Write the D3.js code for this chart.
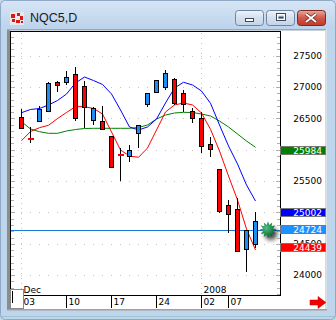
<!DOCTYPE html>
<html><head><meta charset="utf-8">
<script src="https://cdn.jsdelivr.net/npm/d3@7"></script>
<style>html,body{margin:0;padding:0;background:#bfd5ec;overflow:hidden}svg{display:block}</style>
</head><body><svg id="c" width="336" height="320"></svg>
<script>
// ---------- DATA ----------
const title = "NQC5,D";
const dates = ["2007-12-03","2007-12-04","2007-12-05","2007-12-06","2007-12-07",
  "2007-12-10","2007-12-11","2007-12-12","2007-12-13","2007-12-14",
  "2007-12-17","2007-12-18","2007-12-19","2007-12-20","2007-12-21",
  "2007-12-24","2007-12-26","2007-12-27","2007-12-28","2007-12-31",
  "2008-01-02","2008-01-03","2008-01-04","2008-01-07","2008-01-08","2008-01-09","2008-01-10"];
const openV  = [26517,26187,26462,26626,27076,27073,27205,27014,26474,26458,26216,25937,25905,26259,26734,26916,26993,27128,26908,26618,26514,26087,25688,25119,25050,24409,24493];
const highV  = [26650,26358,26698,27073,27096,27259,27325,27104,26687,26698,26225,26023,26076,26395,26913,27113,27264,27140,26953,26661,26607,26211,25693,25198,25235,24720,25007];
const lowV   = [26330,26112,26439,26618,26926,27033,26458,26339,26387,26323,25710,25509,25809,26023,26687,26913,26945,26714,26602,26431,25953,25889,24996,24677,24380,24042,24438];
const closeV = [26336,26163,26647,27065,27025,27157,26498,26687,26661,26326,25717,25924,25996,26390,26905,27108,27219,26738,26730,26502,26071,26007,25012,24970,24385,24712,24863];
const maRed   = [26144,26291,26352,26390,26498,26594,26687,26687,26658,26570,26283,25996,25900,25879,26028,26315,26602,26714,26746,26714,26586,26326,25980,25581,25198,24736,24401];
const maBlue  = [26591,26642,26658,26714,26785,26889,27065,27160,27104,27041,26889,26634,26363,26315,26363,26490,26746,26985,27076,27033,26937,26741,26395,26060,25773,25438,25182];
const maGreen = [26447,26331,26288,26262,26262,26299,26323,26339,26342,26342,26342,26342,26342,26355,26395,26490,26554,26586,26597,26594,26570,26538,26458,26363,26251,26139,26039];
const yTickValues = [24000,24500,25000,25500,26000,26500,27000,27500];
const xTickDates  = ["2007-12-03","2007-12-10","2007-12-17","2007-12-24","2008-01-02","2008-01-07"];
const xTickLabels = ["03","10","17","24","02","07"];
const periodDates  = ["2007-12-03","2008-01-02"];
const periodLabels = ["Dec","2008"];
const tagValues = [25984,25002,24724,24439];
const tagColors = ["#008000","#0000ff","#1e90ff","#ff0000"];
const lastPrice = 24724;

// ---------- DRAW ----------
const svg = d3.select("#c");
const defs = svg.append("defs");
const tg = defs.append("linearGradient").attr("id","tb").attr("x1",0).attr("y1",0).attr("x2",0).attr("y2",1);
tg.append("stop").attr("offset",0).attr("stop-color","#d6e5f5");
tg.append("stop").attr("offset",1).attr("stop-color","#bcd3eb");
const bg = defs.append("linearGradient").attr("id","btn").attr("x1",0).attr("y1",0).attr("x2",0).attr("y2",1);
bg.append("stop").attr("offset",0).attr("stop-color","#eef3fa");
bg.append("stop").attr("offset",0.5).attr("stop-color","#d4e0ee");
bg.append("stop").attr("offset",1).attr("stop-color","#c2d3e8");
const cg = defs.append("linearGradient").attr("id","cls").attr("x1",0).attr("y1",0).attr("x2",0).attr("y2",1);
cg.append("stop").attr("offset",0).attr("stop-color","#e9a99f");
cg.append("stop").attr("offset",0.5).attr("stop-color","#d0584a");
cg.append("stop").attr("offset",1).attr("stop-color","#c0392b");
const sg = defs.append("radialGradient").attr("id","star").attr("cx","40%").attr("cy","40%").attr("r","60%");
sg.append("stop").attr("offset",0).attr("stop-color","#4fc07f");
sg.append("stop").attr("offset",1).attr("stop-color","#075a30");
const bl = defs.append("filter").attr("id","blur").attr("x","-50%").attr("y","-50%").attr("width","200%").attr("height","200%");
bl.append("feGaussianBlur").attr("stdDeviation",2);

// window frame
svg.append("rect").attr("x",0.5).attr("y",0.5).attr("width",335).attr("height",319).attr("rx",5)
  .attr("fill","#bfd5ec").attr("stroke","#8ea8c6");
svg.append("rect").attr("x",1).attr("y",1).attr("width",334).attr("height",28).attr("rx",5).attr("fill","url(#tb)");
// icon
const ic = svg.append("g");
ic.append("rect").attr("x",10).attr("y",12).attr("width",14).attr("height",13).attr("fill","#e8e8e8");
[[11,14,4,4],[17,13,3,3],[20,16,3,4],[12,19,3,3],[16,20,4,3],[21,21,2,2]].forEach(r=>
  ic.append("rect").attr("x",r[0]).attr("y",r[1]).attr("width",r[2]).attr("height",r[3]).attr("fill","#d81818"));
svg.append("text").attr("x",30).attr("y",21.5).attr("font-family","Liberation Sans, Arial, sans-serif")
  .attr("font-size",12.5).attr("fill","#1a1a1a").text(title);
// buttons
svg.append("rect").attr("x",235.5).attr("y",10.5).attr("width",28).attr("height",15).attr("rx",3).attr("fill","url(#btn)").attr("stroke","#6f84a0");
svg.append("rect").attr("x",245.5).attr("y",18.5).attr("width",8).attr("height",3).attr("fill","#fff").attr("stroke","#3c4a5c");
svg.append("rect").attr("x",266.5).attr("y",10.5).attr("width",28).attr("height",15).attr("rx",3).attr("fill","url(#btn)").attr("stroke","#6f84a0");
svg.append("rect").attr("x",276.5).attr("y",13.5).attr("width",9).attr("height",7).attr("fill","none").attr("stroke","#3c4a5c");
svg.append("rect").attr("x",277.5).attr("y",14.5).attr("width",7).attr("height",5).attr("fill","none").attr("stroke","#fff");
svg.append("rect").attr("x",278.5).attr("y",16.5).attr("width",5).attr("height",2).attr("fill","#3c4a5c");
svg.append("rect").attr("x",297.5).attr("y",10.5).attr("width",28).attr("height",15).attr("rx",3).attr("fill","url(#cls)").attr("stroke","#7a2a20");
svg.append("path").attr("d","M306,14 L316,22 M316,14 L306,22").attr("stroke","#5a1a12").attr("stroke-width",3.2);
svg.append("path").attr("d","M306,14 L316,22 M316,14 L306,22").attr("stroke","#fff").attr("stroke-width",2);

// content area
svg.append("rect").attr("x",7).attr("y",29).attr("width",319.5).attr("height",281).attr("fill","#fff");
svg.append("rect").attr("x",7).attr("y",29).attr("width",3).attr("height",281).attr("fill","#8c8c8c");
svg.append("rect").attr("x",7).attr("y",29).attr("width",319).attr("height",1.5).attr("fill","#9aa6b4");
svg.append("rect").attr("x",325).attr("y",30).attr("width",1.5).attr("height",280).attr("fill","#d8d8d8");
svg.append("rect").attr("x",7).attr("y",309).attr("width",320).attr("height",1.5).attr("fill","#a0a0a0");
svg.append("line").attr("x1",0).attr("x2",336).attr("y1",316.5).attr("y2",316.5).attr("stroke","#9cc3cf");

const L = 10, R = 280, T = 31, B = 295;
const x = d3.scalePoint().domain(dates).range([21.5, 255.5]);
const y = d3.scaleLinear().domain([23683, 27894]).range([B, T]);

// gridlines
const grid = svg.append("g").attr("shape-rendering","crispEdges");
yTickValues.forEach(v=>{
  const yy = Math.round(y(v)) + 0.5;
  grid.append("line").attr("x1",21).attr("x2",R).attr("y1",yy).attr("y2",yy)
    .attr("stroke","#c4c4c4").attr("stroke-dasharray","1 8");
});
periodDates.forEach(d=>{
  grid.append("line").attr("x1",x(d)).attr("x2",x(d)).attr("y1",T+2).attr("y2",B)
    .attr("stroke","#c4c4c4").attr("stroke-dasharray","1 4");
});
// minor ticks left/right
d3.range(23700, 27900, 100).forEach(v=>{
  const yy = Math.round(y(v)) + 0.5;
  const len = v % 500 === 0 ? 4 : 3;
  grid.append("line").attr("x1",11).attr("x2",11+len).attr("y1",yy).attr("y2",yy).attr("stroke","#b0b0b0");
  grid.append("line").attr("x1",R-len).attr("x2",R).attr("y1",yy).attr("y2",yy).attr("stroke","#b0b0b0");
});

// price line
const py = Math.round(y(lastPrice)) + 0.5;
svg.append("line").attr("x1",L).attr("x2",R).attr("y1",py).attr("y2",py).attr("stroke","#1a78d6").attr("stroke-width",1);

// moving averages
const idx = d3.range(dates.length);
const lineGen = arr => d3.line().x(i=>x(dates[i])).y(i=>y(arr[i]))(idx);
[[maGreen,"#008000"],[maRed,"#ff0000"],[maBlue,"#0000ff"]].forEach(([a,c])=>{
  svg.append("path").attr("d",lineGen(a)).attr("fill","none").attr("stroke",c).attr("stroke-width",1);
});

// candles
const cg2 = svg.append("g").attr("shape-rendering","crispEdges");
idx.forEach(i=>{
  const cx = x(dates[i]);
  const up = closeV[i] >= openV[i];
  cg2.append("line").attr("x1",cx).attr("x2",cx).attr("y1",y(highV[i])).attr("y2",y(lowV[i])).attr("stroke","#000");
  const yt = y(Math.max(openV[i],closeV[i])), yb = y(Math.min(openV[i],closeV[i]));
  const fill = up ? "#1e8cf0" : "#ff0000";
  if (yb - yt < 3) {
    cg2.append("rect").attr("x",cx-3).attr("y",Math.round(yt)).attr("width",6).attr("height",2).attr("fill",fill);
  } else {
    cg2.append("rect").attr("x",cx-2).attr("y",Math.round(yt)+0.5).attr("width",4).attr("height",Math.round(yb-yt))
      .attr("fill",fill).attr("stroke","#000");
  }
});

// plot frame
svg.append("rect").attr("x",L+0.5).attr("y",T+0.5).attr("width",R-L).attr("height",B-T)
  .attr("fill","none").attr("stroke","#000").attr("shape-rendering","crispEdges");

// y labels
const font = "DejaVu Sans, Verdana, sans-serif";
yTickValues.forEach(v=>{
  svg.append("text").attr("x",322).attr("y",y(v)+3.3).attr("text-anchor","end")
    .attr("font-family",font).attr("font-size",9).attr("fill","#000").text(v);
});
// value tags
tagValues.forEach((v,k)=>{
  const yc = y(v);
  svg.append("rect").attr("x",280.5).attr("y",Math.round(yc-4.5)+0.5).attr("width",45).attr("height",8)
    .attr("fill",tagColors[k]).attr("stroke","#777").attr("shape-rendering","crispEdges");
  svg.append("text").attr("x",322).attr("y",Math.round(yc-4.5)+8).attr("text-anchor","end")
    .attr("font-family",font).attr("font-size",9).attr("fill","#fff").text(v);
});

// x axis ticks & labels
const xa = svg.append("g").attr("shape-rendering","crispEdges");
xTickDates.forEach((d,k)=>{
  const xx = x(d);
  xa.append("line").attr("x1",xx).attr("x2",xx).attr("y1",B).attr("y2",308).attr("stroke","#000");
  svg.append("text").attr("x",xx+2).attr("y",305).attr("font-family",font).attr("font-size",9).attr("fill","#000").text(xTickLabels[k]);
});
periodDates.forEach((d,k)=>{
  svg.append("text").attr("x",x(d)+2).attr("y",293).attr("font-family",font).attr("font-size",9).attr("fill","#000").text(periodLabels[k]);
});
// little box bottom-left
svg.append("rect").attr("x",10.5).attr("y",289.5).attr("width",13).attr("height",19).attr("fill","#fff").attr("stroke","#888").attr("shape-rendering","crispEdges");
svg.append("line").attr("x1",12.5).attr("x2",12.5).attr("y1",291).attr("y2",303).attr("stroke","#000");

// star marker
const starPts = (cx,cy,ro,ri,n)=>d3.range(n*2).map(k=>{
  const a = Math.PI*k/n - Math.PI/2, r = k%2? ri: ro;
  return [cx+r*Math.cos(a), cy+r*Math.sin(a)];
});
const sx = 268, sy = y(lastPrice);
svg.append("polygon").attr("points",starPts(sx+3,sy+4,8,5,12).join(" ")).attr("fill","#000").attr("opacity",0.7).attr("filter","url(#blur)");
svg.append("polygon").attr("points",starPts(sx,sy,8.5,5,12).join(" ")).attr("fill","url(#star)");

// red arrow
svg.append("polygon").attr("points","310,300 318,300 318,296.5 326,302.5 318,308.5 318,305 310,305")
  .attr("fill","#f00000").attr("stroke","#c00000").attr("stroke-width",0.5);
</script></body></html>
